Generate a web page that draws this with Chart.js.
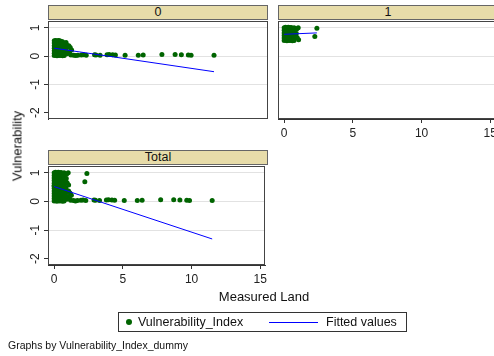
<!DOCTYPE html>
<html>
<head>
<meta charset="utf-8">
<script src="https://cdn.jsdelivr.net/npm/chart.js@4.4.1/dist/chart.umd.min.js"></script>
<style>
  body { margin: 0; background: #fff; font-family: 'Liberation Sans', Arial, sans-serif; color: #111; }
  #wrap { position: relative; width: 494px; height: 356px; overflow: hidden; }
  canvas, .hdr, .txt, #legend { position: absolute; }
  .hdr { background: #e7dca9; border: 1px solid #666; box-sizing: border-box; text-align: center;
         font-size: 12.5px; line-height: 13px; }
  #legend { left: 118px; top: 312px; width: 289px; height: 20px; border: 1px solid #333; box-sizing: border-box; font-size: 12.5px; }
  #legend span { position: absolute; }
</style>
</head>
<body>
<div id="wrap">
  <canvas id="p0" width="270" height="122" style="left:0;top:0"></canvas>
  <canvas id="p1" width="230" height="150" style="left:270px;top:0"></canvas>
  <canvas id="pt" width="270" height="156" style="left:0;top:140px"></canvas>

  <div class="hdr" style="left:48px;top:5px;width:220px;height:15px">0</div>
  <div class="hdr" style="left:278px;top:5px;width:220px;height:15px">1</div>
  <div class="hdr" style="left:48px;top:150px;width:220px;height:15px">Total</div>

  <div class="txt" style="left:17px;top:146px;font-size:13px;transform:translate(-50%,-50%) rotate(-90deg);white-space:nowrap">Vulnerability</div>
  <div class="txt" style="left:264px;top:289px;font-size:13px;transform:translateX(-50%);white-space:nowrap">Measured Land</div>

  <div id="legend">
    <span style="left:7px;top:6px;width:6px;height:6px;border-radius:3px;background:#006400"></span>
    <span style="left:19px;top:2px">Vulnerability_Index</span>
    <span style="left:150px;top:9px;width:49px;height:0;border-top:1.5px solid #0000ff"></span>
    <span style="left:207px;top:2px">Fitted values</span>
  </div>
  <div class="txt" style="left:8px;top:339px;font-size:10.5px;white-space:nowrap">Graphs by Vulnerability_Index_dummy</div>
</div>

<script>
// Vulnerability_Index_dummy = 0
const land0 = [
  0.00, 0.00, 0.00, 0.00, 0.00, 0.00, 0.00,
  0.10, 0.10, 0.10, 0.10, 0.10, 0.10, 0.10,
  0.20, 0.20, 0.20, 0.20, 0.20, 0.20, 0.20,
  0.30, 0.30, 0.30, 0.30, 0.30, 0.30, 0.30,
  0.40, 0.40, 0.40, 0.40, 0.40, 0.40, 0.40,
  0.50, 0.50, 0.50, 0.50, 0.50, 0.50, 0.50,
  0.60, 0.60, 0.60, 0.60, 0.60, 0.60, 0.60,
  0.72, 0.72, 0.72, 0.72, 0.72, 0.72,
  0.85, 0.88, 0.95, 1.05, 1.15, 1.25, 1.10, 0.92, 0.85, 1.20, 1.40, 1.55, 1.70,
  1.95, 2.10, 2.30, 2.90, 3.00, 3.30, 3.80, 3.95, 4.20, 4.40,
  5.10, 6.05, 6.40, 7.75, 8.70, 9.15, 9.65, 9.85, 11.50
];
const vuln0 = [
  0.02, 0.10, 0.19, 0.28, 0.37, 0.46, 0.54,
  0.05, 0.14, 0.23, 0.32, 0.41, 0.50, 0.55,
  0.01, 0.09, 0.18, 0.27, 0.36, 0.45, 0.53,
  0.04, 0.13, 0.22, 0.31, 0.40, 0.49, 0.55,
  0.02, 0.11, 0.20, 0.29, 0.38, 0.47, 0.54,
  0.03, 0.12, 0.21, 0.30, 0.39, 0.48, 0.52,
  0.01, 0.10, 0.19, 0.28, 0.37, 0.46, 0.51,
  0.02, 0.11, 0.20, 0.29, 0.38, 0.45,
  0.48, 0.40, 0.33, 0.37, 0.30, 0.22, 0.15, 0.08, 0.20, 0.04, 0.03, 0.02, 0.03,
  0.04, 0.05, 0.03, 0.05, 0.04, 0.03, 0.05, 0.06, 0.05, 0.04,
  0.03, 0.03, 0.04, 0.06, 0.06, 0.05, 0.04, 0.03, 0.03
];

// Vulnerability_Index_dummy = 1
const land1 = [
  0.00, 0.00, 0.00, 0.00, 0.00, 0.00,
  0.10, 0.10, 0.10, 0.10, 0.10, 0.10,
  0.20, 0.20, 0.20, 0.20, 0.20, 0.20,
  0.30, 0.30, 0.30, 0.30, 0.30, 0.30,
  0.40, 0.40, 0.40, 0.40, 0.40, 0.40,
  0.50, 0.50, 0.50, 0.50, 0.50, 0.50,
  0.60, 0.60, 0.60, 0.60, 0.60, 0.60,
  0.72, 0.72, 0.72, 0.72, 0.72, 0.72,
  0.85, 0.88, 0.90, 1.02, 1.05, 0.95, 2.23, 2.38
];
const vuln1 = [
  0.55, 0.64, 0.73, 0.82, 0.91, 1.00,
  0.58, 0.67, 0.76, 0.85, 0.94, 1.02,
  0.54, 0.63, 0.72, 0.81, 0.90, 0.99,
  0.57, 0.66, 0.75, 0.84, 0.93, 1.02,
  0.55, 0.64, 0.73, 0.82, 0.91, 1.00,
  0.56, 0.65, 0.74, 0.83, 0.92, 1.01,
  0.54, 0.63, 0.72, 0.81, 0.90, 0.98,
  0.55, 0.64, 0.73, 0.82, 0.91, 1.00,
  0.70, 0.80, 0.95, 1.00, 0.58, 0.65, 0.69, 0.98
];

// fitted values (lfit) per panel
const fitLand0 = [0, 11.5];
const fitVuln0 = [0.28, -0.55];
const fitLand1 = [0, 2.38];
const fitVuln1 = [0.77, 0.82];
const fitLandT = [0, 11.5];
const fitVulnT = [0.52, -1.31];

const xTicks = [0, 5, 10, 15];
const yTicks = [-2, -1, 0, 1];

const green = '#006400';
const tickFont = { family: "'Liberation Sans', Arial, sans-serif", size: 12 };
const toPts = (xs, ys) => xs.map((x, i) => ({ x: x, y: ys[i] }));

// box around the plot region
const framePlugin = {
  id: 'frame',
  afterDraw(chart) {
    const { ctx, chartArea: a } = chart;
    ctx.save();
    ctx.strokeStyle = '#444';
    ctx.lineWidth = 1;
    ctx.strokeRect(Math.round(a.left) + 0.5, Math.round(a.top) + 0.5,
                   Math.round(a.right - a.left) - 1, Math.round(a.bottom - a.top) - 1);
    ctx.restore();
  }
};

// stata style vertical y labels
const yLabelPlugin = {
  id: 'ylab',
  afterDraw(chart) {
    const s = chart.scales.y;
    if (!s || !s.options.display || s.width < 10) return;
    const ctx = chart.ctx;
    ctx.save();
    ctx.fillStyle = '#222';
    ctx.font = "12px 'Liberation Sans', Arial, sans-serif";
    yTicks.forEach(v => {
      ctx.save();
      ctx.translate(s.right - 9.5, s.getPixelForValue(v));
      ctx.rotate(-Math.PI / 2);
      ctx.textAlign = 'center';
      ctx.textBaseline = 'alphabetic';
      ctx.fillText(String(v), 0, 0);
      ctx.restore();
    });
    ctx.restore();
  }
};

function panel(id, pts, fit, opt) {
  return new Chart(document.getElementById(id), {
    type: 'scatter',
    data: {
      datasets: [
        { type: 'line', label: 'Fitted values', data: fit, borderColor: '#0000ff', borderWidth: 1,
          pointRadius: 0, fill: false },
        { label: 'Vulnerability_Index', data: pts, backgroundColor: green, borderWidth: 0,
          pointRadius: 2.5, pointHoverRadius: 2.5 }
      ]
    },
    options: {
      responsive: false,
      animation: false,
      layout: { padding: opt.pad },
      plugins: { legend: { display: false }, tooltip: { enabled: false } },
      scales: {
        x: {
          type: 'linear', min: -0.45, max: 15.35, display: opt.xAxis,
          afterBuildTicks: s => { s.ticks = xTicks.map(v => ({ value: v })); },
          afterFit: s => { s.height = opt.xAxis ? 31 : 0; },
          grid: { drawOnChartArea: false, tickLength: 4, tickColor: '#333' },
          border: { color: '#333' },
          ticks: { color: '#222', padding: 3, maxRotation: 0, font: tickFont }
        },
        y: {
          type: 'linear', min: -2.22, max: 1.24,
          afterBuildTicks: s => { s.ticks = yTicks.map(v => ({ value: v })); },
          afterFit: s => { s.width = opt.yAxis ? 48 : 0; },
          grid: {
            color: c => (c.tick && c.tick.value === -2) ? 'rgba(0,0,0,0)' : '#e2e2e2',
            drawTicks: opt.yAxis, tickLength: 4, tickColor: '#333'
          },
          border: { color: '#333' },
          ticks: { display: false }
        }
      }
    },
    plugins: [framePlugin, yLabelPlugin]
  });
}

panel('p0', toPts(land0, vuln0), toPts(fitLand0, fitVuln0),
      { pad: { top: 21, right: 2, bottom: 3, left: 0 }, xAxis: false, yAxis: true });

panel('p1', toPts(land1, vuln1), toPts(fitLand1, fitVuln1),
      { pad: { top: 21, right: 2, bottom: 0, left: 8 }, xAxis: true, yAxis: false });

panel('pt', toPts(land0.concat(land1), vuln0.concat(vuln1)), toPts(fitLandT, fitVulnT),
      { pad: { top: 26, right: 2, bottom: 0, left: 0 }, xAxis: true, yAxis: true });
</script>
</body>
</html>
